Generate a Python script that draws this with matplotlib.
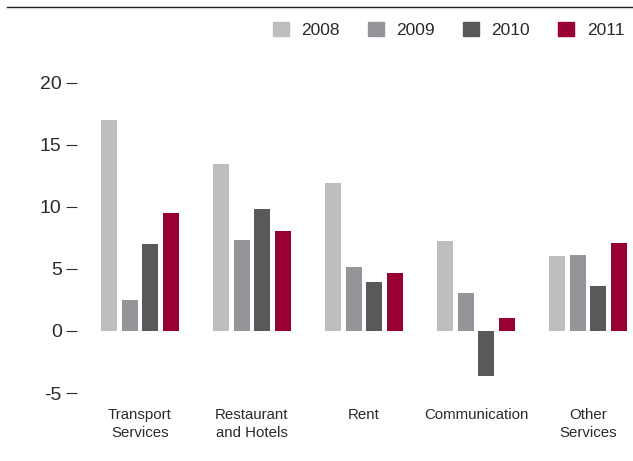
import numpy as np
import matplotlib.pyplot as plt
from matplotlib.lines import Line2D
from matplotlib.patches import Patch

plt.rcParams['font.family'] = ['Liberation Sans', 'DejaVu Sans']

categories = ['Transport\nServices', 'Restaurant\nand Hotels', 'Rent', 'Communication', 'Other\nServices']
years = ['2008', '2009', '2010', '2011']
v2008 = [17.0, 13.5, 11.9, 7.25, 6.05]
v2009 = [2.5, 7.3, 5.2, 3.1, 6.1]
v2010 = [7.0, 9.8, 3.95, -3.6, 3.6]
v2011 = [9.5, 8.1, 4.7, 1.05, 7.1]
yticks = [-5, 0, 5, 10, 15, 20]

colors = ['#bdbec0', '#939598', '#58595b', '#990033']
text_col = '#2a2a2a'

fig = plt.figure(figsize=(6.33, 4.61), dpi=100)
ax = fig.add_axes([77 / 633, 0.1206, 556 / 633, 0.7263])

x = np.arange(len(categories))
step = 0.185
width = 0.143
for i, vals in enumerate([v2008, v2009, v2010, v2011]):
    ax.bar(x + (i - 1.5) * step, vals, width, color=colors[i], label=years[i])

ax.set_xlim(-0.5625, 4.402)
ax.set_ylim(-6, 21)
ax.set_yticks(yticks)
ax.set_yticklabels([str(t) for t in yticks])
ax.set_xticks(x)
ax.set_xticklabels(categories, linespacing=1.35)

for s in ax.spines.values():
    s.set_visible(False)
ax.tick_params(axis='y', length=8, width=0.8, color=text_col, pad=3,
               labelsize=14, labelcolor=text_col)
ax.tick_params(axis='x', length=0, pad=2, labelsize=10.8, labelcolor=text_col)

# rule across the top of the figure
fig.add_artist(Line2D([0.011, 1.0], [0.985, 0.985], color='#222222', lw=1.0))

handles = [Patch(color=c) for c in colors]
fig.legend(handles, years, ncol=4, loc='center right', bbox_to_anchor=(1.0, 0.935),
           frameon=False, fontsize=12.5, handlelength=0.92, handleheight=0.92,
           handletextpad=0.72, columnspacing=1.62, labelcolor=text_col, borderpad=0)

fig.savefig('out.png', dpi=100)
